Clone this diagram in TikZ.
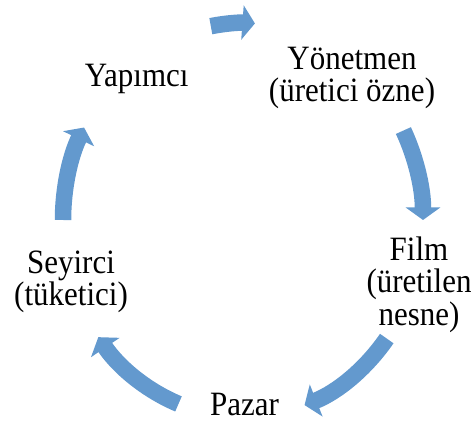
\documentclass[tikz,border=0pt]{standalone}
\usepackage{xcolor}
\usepackage{fontspec}
\setmainfont{Liberation Serif}
\usetikzlibrary{arrows.meta}
\definecolor{cycblue}{RGB}{99,153,206}
\tikzset{
  lbl/.style={draw=none, align=center, font=\fontsize{31}{29.5}\selectfont, yscale=1.1},
  cyc/.style={draw=cycblue, line width=16.5pt, -{Triangle[width=34pt,length=12.5pt]}, cycblue}
}
\begin{document}
\begin{tikzpicture}[x=1pt,y=1pt]
             \useasboundingbox (0,0) rectangle (471,423);
             \coordinate (c) at (243,203);

             \node[lbl] (yonetmen) at (352, 345) {Yönetmen\\(üretici özne)};
             \node[lbl] (film) at (419, 138.5) {Film\\(üretilen\\nesne)};
             \node[lbl] (pazar) at (244.5, 18.5) {Pazar};
             \node[lbl] (seyirci) at (71, 141) {Seyirci\\(tüketici)};
             \node[lbl] (yapimci) at (136.7, 343.8) {Yapımcı};

             \draw[cyc] ([shift={(100.3:180 and 197)}]c) arc[start angle=100.3, end angle=86.2, x radius=180, y radius=197];
             \draw[cyc] ([shift={(27:180 and 197)}]c) arc[start angle=27, end angle=0, x radius=180, y radius=197];
             \draw[cyc] ([shift={(-37:180 and 197)}]c) arc[start angle=-37, end angle=-70, x radius=180, y radius=197];
             \draw[cyc] ([shift={(-111:180 and 197)}]c) arc[start angle=-111, end angle=-143.5, x radius=180, y radius=197];
             \draw[cyc] ([shift={(180:180 and 197)}]c) arc[start angle=180, end angle=152, x radius=180, y radius=197];
             \end{tikzpicture}
\end{document}
